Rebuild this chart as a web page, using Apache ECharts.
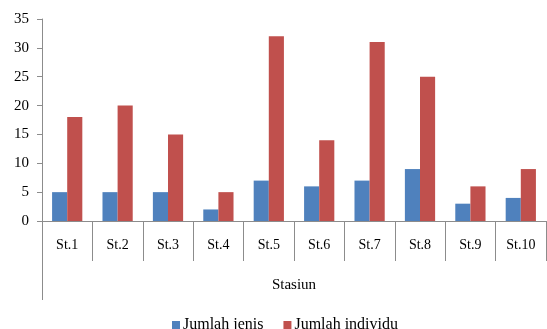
<!DOCTYPE html>
<html>
<head>
<meta charset="utf-8">
<script src="https://cdn.jsdelivr.net/npm/echarts@6/dist/echarts.min.js"></script>
<style>
  html, body { margin: 0; padding: 0; background: #fff; }
  #chart { width: 547px; height: 329px; }
</style>
</head>
<body>
<div id="chart"></div>
<script>
// Stations and counts per station
const stations = ['St.1', 'St.2', 'St.3', 'St.4', 'St.5', 'St.6', 'St.7', 'St.8', 'St.9', 'St.10'];
const jumlahJenis = [5, 5, 5, 2, 7, 6, 7, 9, 3, 4];
const jumlahIndividu = [18, 20, 15, 5, 32, 14, 31, 25, 6, 9];
const yTicks = { min: 0, max: 35, interval: 5 };

const FONT = 'Liberation Serif';
const AXIS_COLOR = '#8c8c8c';

const chart = echarts.init(document.getElementById('chart'), null, { renderer: 'canvas' });

chart.setOption({
  animation: false,
  backgroundColor: '#ffffff',
  textStyle: { fontFamily: FONT, color: '#000' },
  grid: { left: 42, right: 1, top: 19, bottom: 108, containLabel: false },
  legend: {
    bottom: -9,
    left: 167,
    itemWidth: 8,
    itemHeight: 8,
    itemGap: 20,
    icon: 'rect',
    textStyle: { fontFamily: FONT, fontSize: 16, color: '#000', padding: [0, 0, 0, -2] },
    data: ['Jumlah jenis', 'Jumlah individu']
  },
  xAxis: {
    type: 'category',
    data: stations,
    name: 'Stasiun',
    nameLocation: 'middle',
    nameGap: 57,
    nameTextStyle: { fontFamily: FONT, fontSize: 15, color: '#000' },
    axisLine: { lineStyle: { color: AXIS_COLOR, width: 1 } },
    axisTick: { show: true, interval: 0, length: 40, lineStyle: { color: AXIS_COLOR } },
    axisLabel: { interval: 0, margin: 17, fontFamily: FONT, fontSize: 14, color: '#000' },
    splitLine: { show: false }
  },
  yAxis: {
    type: 'value',
    min: yTicks.min,
    max: yTicks.max,
    interval: yTicks.interval,
    axisLine: { show: true, lineStyle: { color: AXIS_COLOR, width: 1 } },
    axisTick: { show: true, length: 5, lineStyle: { color: AXIS_COLOR } },
    axisLabel: { margin: 13, fontFamily: FONT, fontSize: 15, color: '#000' },
    splitLine: { show: false }
  },
  series: [
    {
      name: 'Jumlah jenis',
      type: 'bar',
      data: jumlahJenis,
      barWidth: '30%',
      barGap: '0%',
      itemStyle: { color: '#4f81bd' }
    },
    {
      name: 'Jumlah individu',
      type: 'bar',
      data: jumlahIndividu,
      barWidth: '30%',
      barGap: '0%',
      itemStyle: { color: '#c0504d' }
    }
  ]
});

// Extend the value axis line down past the category labels
const origin = chart.convertToPixel({ gridIndex: 0 }, [0, 0]);
const axisX = Math.round(origin[0] - 25.2) + 0.5;
chart.setOption({
  graphic: [{
    type: 'line',
    shape: { x1: axisX, y1: origin[1], x2: axisX, y2: origin[1] + 79 },
    style: { stroke: AXIS_COLOR, lineWidth: 1 },
    silent: true
  }]
});
</script>
</body>
</html>
